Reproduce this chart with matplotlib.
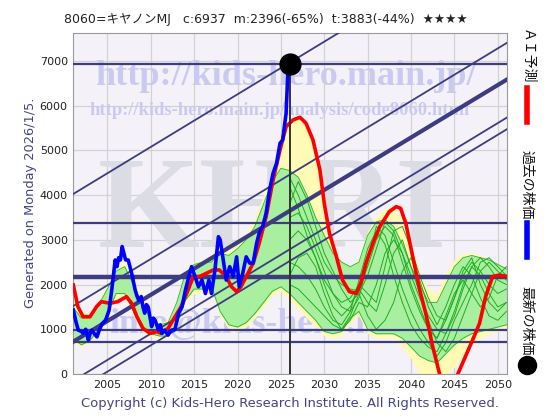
import matplotlib
matplotlib.use("Agg")
import matplotlib.pyplot as plt
import numpy as np

plt.rcParams['font.family'] = ['DejaVu Sans', 'Noto Sans CJK JP']

# ---------------- data ----------------
title = "8060=キヤノンMJ   c:6937  m:2396(-65%)  t:3883(-44%)  ★★★★"
latest_year = 2026.0
latest_price = 6937

past_years = [2001.07, 2001.4, 2001.65, 2002.0, 2002.2, 2002.5, 2002.8, 2003.0, 2003.2, 2003.5,
              2003.8, 2004.1, 2004.4, 2004.8, 2005.2, 2005.5, 2005.9, 2006.1, 2006.3, 2006.5,
              2006.7, 2006.9, 2007.1, 2007.4, 2007.8, 2008.2, 2008.4, 2008.6, 2008.9, 2009.1,
              2009.3, 2009.5, 2009.7, 2010.1, 2010.3, 2010.5, 2010.9, 2011.1, 2011.3, 2011.6,
              2012.0, 2012.2, 2012.4, 2012.8, 2013.2, 2013.6, 2014.0, 2014.4, 2014.7, 2015.1,
              2015.5, 2015.9, 2016.3, 2016.7, 2017.0, 2017.4, 2017.8, 2018.0, 2018.3, 2018.7,
              2019.1, 2019.5, 2019.9, 2020.2, 2020.6, 2021.0, 2021.4, 2021.8, 2022.2, 2022.5,
              2022.9, 2023.3, 2023.7, 2024.1, 2024.5, 2024.9, 2025.2, 2025.6, 2025.8, 2026.0]
past_price = [1430, 1150, 980, 950, 910, 1000, 760, 900, 980, 900,
              830, 1000, 1130, 1200, 1430, 1880, 2550, 2400, 2600, 2550,
              2850, 2700, 2550, 2550, 2250, 1880, 1750, 1650, 1730, 1500,
              1360, 1550, 1500, 1060, 1250, 1200, 980, 1100, 910, 980,
              870, 950, 980, 1000, 1360, 1500, 1880, 2180, 2400, 2180,
              1950, 2100, 1800, 2100, 1800, 2330, 3070, 3000, 2620, 2100,
              2400, 2180, 2620, 1950, 2250, 2620, 2480, 2480, 2920, 3150,
              3300, 3600, 4120, 4490, 4710, 5160, 5230, 5830, 6720, 6937]

ai_years = [2001.07, 2001.6, 2002.2, 2003.0, 2003.75, 2004.3, 2005.3, 2006.2, 2007.2, 2007.8,
            2008.4, 2009.1, 2009.9, 2010.7, 2011.2, 2012.0, 2012.8, 2013.5, 2014.3, 2014.9,
            2015.6, 2016.4, 2017.2, 2017.9, 2018.7, 2019.3, 2019.9, 2020.4, 2021.0, 2021.8,
            2022.5, 2023.3, 2024.1, 2024.9, 2025.6, 2026.4, 2027.2, 2027.9, 2028.7, 2029.5,
            2030.0, 2030.6, 2031.4, 2032.1, 2032.9, 2033.7, 2034.2, 2034.8, 2035.6, 2036.4,
            2037.5, 2038.3, 2038.8, 2039.4, 2040.2, 2041.0, 2041.7, 2042.5, 2043.3, 2044.3,
            2045.4, 2046.1, 2047.1, 2047.9, 2048.6, 2049.4, 2050.2, 2051.1]
ai_pred = [1990, 1506, 1282, 1282, 1506, 1618, 1580, 1618, 1730, 1580,
           1282, 1021, 909, 947, 909, 1021, 1282, 1506, 1879, 2177,
           2177, 2251, 2326, 2326, 2177, 1953, 1841, 1953, 2177, 2475,
           2922, 3519, 4339, 5010, 5532, 5681, 5740, 5606, 5233, 4562,
           3817, 3146, 2624, 2102, 1841, 1804, 2028, 2475, 2922, 3295,
           3631, 3742, 3705, 3370, 2624, 1879, 1357, 611, 0, -500,
           0, 313, 760, 1133, 1730, 2177, 2214, 2177]

band_years = list(range(2001, 2052))
green_lo = [800, 650, 750, 1000, 1350, 1800, 1800, 1400, 1000, 900, 850, 850, 1100, 1650, 1900, 1900,
            1950, 1400, 1100, 1050, 1150, 1350, 1600, 1850, 1950, 1800, 1600, 1400, 1200, 950, 900,
            950, 1250, 1400, 1000, 900, 900, 900, 800, 600, 400, 300, 250, 450, 650, 800, 900, 950,
            1000, 1050, 1100]
green_hi = [1500, 1250, 1250, 1550, 1900, 2300, 2400, 2000, 1550, 1250, 1100, 1150, 1600, 2250, 2450,
            2500, 2500, 2700, 2650, 2800, 3000, 3300, 3800, 4300, 4600, 4550, 4400, 4000, 3500, 3100,
            2700, 2500, 2400, 2500, 3100, 3400, 3450, 3300, 2900, 2400, 2000, 1600, 1600, 2000, 2400,
            2600, 2650, 2600, 2550, 2450, 2350]
yellow_lo = [700, 600, 700, 900, 1300, 1700, 1700, 1300, 950, 850, 800, 800, 1050, 1600, 1800, 1800,
             1850, 1300, 1000, 950, 1050, 1250, 1500, 1750, 1850, 1650, 1450, 1250, 1050, 850, 800,
             850, 1150, 1300, 900, 800, 800, 800, 600, 350, 0, 0, 0, 0, 150, 400, 650, 800, 900,
             950, 1000]
yellow_hi = [1800, 1400, 1350, 1650, 2000, 2450, 2500, 2100, 1650, 1300, 1150, 1200, 1650, 2300, 2500,
             2550, 2600, 2800, 2750, 2900, 3100, 3500, 4000, 4500, 5400, 5690, 5740, 5500, 4900, 3900,
             2900, 2500, 2400, 2600, 3200, 3550, 3700, 3750, 3450, 2900, 2300, 1900, 1800, 2250, 2550,
             2700, 2700, 2650, 2550, 2450, 2350]

ens_years = list(range(2026, 2052))
ens_lines = [
    [4400, 4000, 3500, 3000, 2500, 2200, 2000, 1900, 1850, 2400, 3000, 3300, 3100, 2500, 1900, 1400, 1000, 800, 1200, 1700, 2200, 2500, 2300, 2000, 1800, 1900],
    [3800, 4300, 3900, 3300, 2700, 2300, 1900, 1600, 1800, 2200, 2800, 3400, 3200, 2700, 2200, 1700, 1300, 1000, 900, 1300, 1900, 2400, 2600, 2400, 2100, 2000],
    [3000, 3200, 3000, 2600, 2000, 1500, 1300, 1500, 1900, 1600, 1400, 2000, 2700, 3000, 2400, 1800, 1200, 700, 500, 800, 1300, 1800, 2300, 2500, 2300, 2100],
    [2500, 2400, 2200, 1900, 1500, 1200, 1100, 1400, 2100, 2800, 3200, 2900, 2200, 1600, 1100, 800, 600, 500, 900, 1400, 2000, 2400, 2200, 1800, 1500, 1600],
    [2000, 1900, 1700, 1500, 1300, 1100, 1000, 1300, 1800, 1300, 1000, 1200, 1600, 2300, 2600, 2100, 1500, 1100, 1500, 2000, 2400, 2200, 1700, 1300, 1200, 1400],
    [3500, 3600, 3300, 2800, 2300, 1800, 1500, 1400, 1700, 2500, 3300, 3100, 2500, 1900, 1400, 1000, 700, 400, 700, 1200, 1600, 2000, 2500, 2600, 2400, 2200],
    [4200, 3700, 3100, 2600, 2100, 1800, 1600, 1700, 2000, 1800, 1600, 2400, 3200, 3300, 2800, 2200, 1700, 1300, 1200, 1700, 2300, 2600, 2000, 1600, 1400, 1600],
    [2200, 2600, 2700, 2400, 1800, 1300, 1000, 1200, 1600, 1500, 2000, 2700, 3000, 2700, 2000, 1500, 1000, 800, 1300, 1800, 2100, 1800, 1500, 1700, 2200, 2400],
]

hlines_thin = [6937, 3370, 984, 716]
hline_thick = 2162
trend_x = [2001.07, 2051.1]
trend_thin = [[4026, 9915], [1521, 7410], [-149, 5740], [-410, 5479]]
trend_thick = [723, 6590]

x_ticks = [2005, 2010, 2015, 2020, 2025, 2030, 2035, 2040, 2045, 2050]
y_ticks = [0, 1000, 2000, 3000, 4000, 5000, 6000, 7000]

# ---------------- figure ----------------
W, H = 560, 420
fig = plt.figure(figsize=(W / 100, H / 100), dpi=100, facecolor='white')
ax = fig.add_axes([73.3 / W, 1 - 374 / H, (507.3 - 73.3) / W, (374 - 33) / H])
ax.set_facecolor('#f5f1f8')
ax.set_xlim(2001.07, 2051.1)
ax.set_ylim(0, 7625)

navy = '#3c3c80'
for xt in x_ticks:
    ax.axvline(xt, color='#d2d2d2', lw=0.9, zorder=0.5)
for yt in y_ticks:
    ax.axhline(yt, color='#d2d2d2', lw=0.9, zorder=0.5)

fig.canvas.draw()
rend = fig.canvas.get_renderer()


def fit(t, target_w, axis='w'):
    bb = t.get_window_extent(renderer=rend)
    cur = bb.width if axis == 'w' else bb.height
    t.set_fontsize(t.get_fontsize() * target_w / cur)


def px(xp, yp):
    return (xp / W, 1 - yp / H)


wm_blue = '#cacaf0'


def watermark(xy, s, size, color, target):
    t = ax.text(*px(*xy), s, family='Liberation Serif', weight='bold', color=color,
                fontsize=size, ha='center', va='baseline', zorder=1,
                transform=fig.transFigure, clip_on=False)
    fit(t, target)
    return t


watermark((286, 85), "http://kids-hero.main.jp/", 22, wm_blue, 382)
watermark((280, 115), "http://kids-hero.main.jp/analysis/code8060.html", 10, wm_blue, 380)
watermark((272, 247), "KHRI", 94, '#dcdce4', 349)
watermark((292, 333), "info@kids-hero.main.jp", 22, wm_blue, 365)

# bands
ax.fill_between(band_years, yellow_lo, yellow_hi, color='#fffab4', lw=0, zorder=2)
ax.fill_between(band_years, green_lo, green_hi, color='#a8f0a0', lw=0, zorder=2.5)
ax.plot(band_years, green_lo, color='#33bb33', lw=0.7, zorder=3)
ax.plot(band_years, green_hi, color='#33bb33', lw=0.7, zorder=3)
for line in ens_lines:
    ax.plot(ens_years, line, color='#22aa22', lw=0.7, zorder=3)

# reference lines
for v in hlines_thin:
    ax.axhline(v, color=navy, lw=1.6, zorder=4)
ax.axhline(hline_thick, color=navy, lw=3.2, zorder=4)
for tl in trend_thin:
    ax.plot(trend_x, tl, color=navy, lw=1.3, zorder=4)
ax.plot(trend_x, trend_thick, color=navy, lw=3.0, zorder=4)

ax.plot(ai_years, ai_pred, color='#ff0000', lw=2.6, zorder=5, solid_joinstyle='round')
ax.plot([latest_year, latest_year], [0, latest_price], color='#333333', lw=1.4, zorder=5.5)
ax.plot(past_years, past_price, color='#0000ff', lw=2.6, zorder=6, solid_joinstyle='round')
ax.plot([latest_year], [latest_price], 'o', color='black', ms=15, zorder=7, clip_on=False)

ax.set_xticks(x_ticks)
ax.set_yticks(y_ticks)
ax.tick_params(axis='both', labelsize=8, length=0, pad=4, colors='#222222')
for s in ax.spines.values():
    s.set_color('#999999')
    s.set_linewidth(0.8)

# texts
fig.text(*px(266, 19), title, family=['DejaVu Sans', 'Noto Sans CJK JP'], fontsize=9,
         ha='center', va='center', color='#222222')
t = fig.text(*px(31, 203), "Generated on Monday 2026/1/5.", rotation=90, color='#444488',
             fontsize=10, ha='center', va='center')
fit(t, 210, axis='h')
t = fig.text(*px(290, 403), "Copyright (c) Kids-Hero Research Institute. All Rights Reserved.",
             color='#444488', fontsize=10, ha='center', va='center')
fit(t, 415)

cjk = ['Noto Sans CJK JP', 'DejaVu Sans']
fig.text(*px(527, 57), "ＡＩ予測", family=cjk, rotation=-90, fontsize=10, ha='center', va='center',
         color='#111111')
fig.add_artist(plt.Line2D([527 / W, 527 / W], [1 - 88 / H, 1 - 122 / H], color='#ff0000', lw=4))
fig.text(*px(527, 185), "過去の株価", family=cjk, rotation=-90, fontsize=10, ha='center', va='center',
         color='#111111')
fig.add_artist(plt.Line2D([527 / W, 527 / W], [1 - 223 / H, 1 - 257 / H], color='#0000ff', lw=4))
fig.text(*px(527, 321), "最新の株価", family=cjk, rotation=-90, fontsize=10, ha='center', va='center',
         color='#111111')
fig.add_artist(plt.Line2D([527 / W], [1 - 365 / H], marker='o', color='black', ms=13))

fig.savefig('out.png', dpi=100, facecolor='white')
